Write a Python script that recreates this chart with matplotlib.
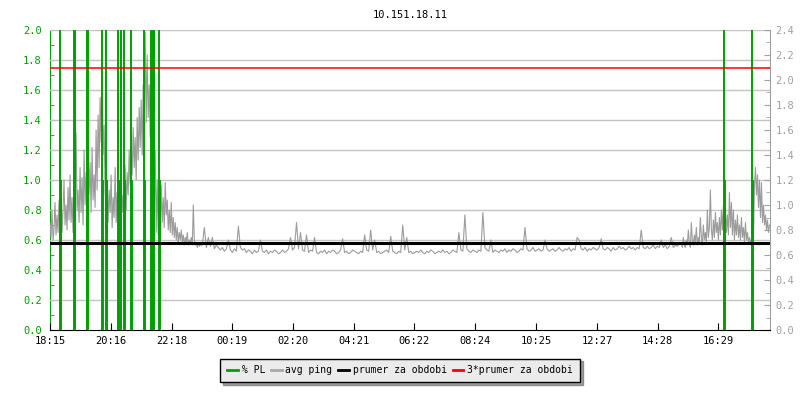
import numpy as np
import matplotlib
matplotlib.use("Agg")
import matplotlib.pyplot as plt
from matplotlib.lines import Line2D

# chart texts
title = "10.151.18.11"
x_labels = ["18:15", "20:16", "22:18", "00:19", "02:20", "04:21",
            "06:22", "08:24", "10:25", "12:27", "14:28", "16:29"]
x_label_minutes = [0, 121, 243, 364, 485, 606, 727, 849, 970, 1092, 1213, 1334]
legend_labels = ["% PL", "avg ping", "prumer za obdobi", "3*prumer za obdobi"]

# avg ping [ms]
# evening 18:15 - 23:13, one sample every 2 minutes
ping_evening = [
    0.86, 0.74, 0.96, 0.72, 0.80, 1.02, 0.76, 0.92, 0.78, 1.04,
    0.82, 1.10, 0.78, 0.96, 1.20, 0.84, 1.00, 0.80, 1.14, 0.88,
    1.24, 0.86, 1.06, 0.78, 1.18, 0.92, 1.58, 0.96, 1.12, 0.86,
    1.30, 0.94, 1.22, 0.84, 1.44, 1.00, 1.26, 0.90, 1.52, 1.08,
    1.34, 0.94, 1.46, 1.04, 1.24, 0.98, 1.60, 1.12, 1.72, 1.30,
    1.86, 1.50, 2.08, 1.40, 1.64, 1.10, 0.92, 1.20, 0.86, 1.12,
    0.94, 1.24, 0.82, 1.06, 0.90, 1.30, 0.86, 1.10, 0.96, 1.18,
    0.88, 1.22, 0.94, 1.08, 1.00, 1.32, 0.96, 1.26, 1.08, 1.44,
    1.16, 1.50, 1.24, 1.62, 1.30, 1.54, 1.20, 1.70, 1.36, 1.78,
    1.46, 1.84, 1.40, 1.96, 1.56, 2.38, 1.66, 2.20, 1.70, 1.96,
    1.54, 2.00, 1.24, 1.60, 0.90, 1.44, 0.78, 1.20, 0.76, 1.10,
    0.80, 1.16, 0.86, 1.06, 0.82, 1.18, 0.92, 1.04, 0.80, 0.96,
    0.78, 1.02, 0.76, 0.90, 0.74, 0.86, 0.72, 0.82, 0.70, 0.78,
    0.72, 0.80, 0.70, 0.76, 0.68, 0.74, 0.70, 0.78, 0.68, 0.72,
    0.70, 0.74, 0.68, 1.00, 0.72, 0.68, 0.70, 0.66, 0.70, 0.67,
]
evening_start, evening_step = 0, 2

# night and day 23:15 - 17:11, one sample every 4 minutes
ping_night = [
    0.68,
    0.68, 0.82, 0.66, 0.74, 0.67, 0.74, 0.65, 0.68, 0.66, 0.64,
    0.66, 0.63, 0.65, 0.72, 0.64, 0.62, 0.65, 0.63, 0.83, 0.66,
    0.64, 0.65, 0.62, 0.64, 0.63, 0.61, 0.64, 0.62, 0.63, 0.72,
    0.63, 0.62, 0.64, 0.61, 0.63, 0.62, 0.64, 0.63, 0.61, 0.62,
    0.64, 0.62, 0.63, 0.65, 0.74, 0.64, 0.66, 0.86, 0.65, 0.78,
    0.64, 0.63, 0.76, 0.62, 0.64, 0.63, 0.74, 0.62, 0.61, 0.63,
    0.62, 0.64, 0.61, 0.63, 0.62, 0.64, 0.63, 0.61, 0.62, 0.64,
    0.73, 0.62, 0.63, 0.61, 0.62, 0.64, 0.63, 0.62, 0.61, 0.63,
    0.62, 0.76, 0.64, 0.63, 0.80, 0.64, 0.72, 0.62, 0.63, 0.61,
    0.62, 0.63, 0.64, 0.62, 0.75, 0.63, 0.62, 0.61, 0.63, 0.62,
    0.84, 0.64, 0.74, 0.62, 0.63, 0.61, 0.62, 0.63, 0.62, 0.64,
    0.62, 0.61, 0.63, 0.62, 0.64, 0.63, 0.61, 0.62, 0.63, 0.62,
    0.64, 0.62, 0.63, 0.61, 0.62, 0.64, 0.63, 0.62, 0.78, 0.64,
    0.63, 0.92, 0.65, 0.63, 0.62, 0.64, 0.63, 0.62, 0.64, 0.63,
    0.94, 0.66, 0.64, 0.63, 0.72, 0.62, 0.64, 0.63, 0.62, 0.64,
    0.63, 0.65, 0.62, 0.64, 0.63, 0.65, 0.64, 0.62, 0.63, 0.65,
    0.64, 0.82, 0.65, 0.63, 0.64, 0.66, 0.63, 0.64, 0.65, 0.63,
    0.64, 0.72, 0.65, 0.63, 0.64, 0.65, 0.63, 0.64, 0.66, 0.64,
    0.63, 0.65, 0.64, 0.66, 0.63, 0.65, 0.64, 0.74, 0.72, 0.65,
    0.64, 0.66, 0.63, 0.65, 0.64, 0.66, 0.65, 0.64, 0.66, 0.73,
    0.65, 0.64, 0.66, 0.65, 0.63, 0.66, 0.64, 0.65, 0.67, 0.65,
    0.66, 0.64, 0.65, 0.67, 0.65, 0.66, 0.64, 0.66, 0.65, 0.80,
    0.66, 0.65, 0.67, 0.65, 0.66, 0.68, 0.65, 0.67, 0.66, 0.72,
    0.66, 0.68, 0.65, 0.67, 0.74, 0.66, 0.68, 0.67, 0.69,
]
night_start, night_step = 300, 4

# late afternoon 17:15 - 18:11, one sample every 2 minutes
ping_late = [
    0.70, 0.66, 0.74, 0.68, 0.66, 0.72, 0.68, 0.80, 0.70, 0.66,
    0.86, 0.72, 0.68, 0.76, 0.70, 0.82, 0.68, 0.74, 0.70, 0.90,
    0.74, 0.68, 0.84, 0.72, 0.78, 0.70, 0.96, 0.74, 0.82, 1.12,
    0.80, 0.72, 0.88, 0.74, 0.94, 0.78, 0.86, 0.72, 0.90, 0.76,
    0.96, 0.80, 1.00, 0.84, 0.98, 0.78, 0.92, 0.76, 1.10, 0.82,
    1.02, 0.76, 0.96, 0.72, 0.88, 0.76, 0.92, 0.74, 0.84, 0.72,
    0.90, 0.74, 0.82, 0.70, 0.86, 0.72, 0.78, 0.70, 0.74, 0.70,
    0.72, 0.70, 0.74, 1.16, 1.30, 1.08, 1.24, 0.98, 1.20, 0.90,
    1.18, 0.86, 1.00, 0.84, 0.92, 0.80, 0.88, 0.78, 0.84,
]
late_start, late_step = 1260, 2

# packet loss events: minutes after 18:15 and % PL (values above 2.0 are off scale)
pl_minutes = [19, 21, 47, 49, 74, 76, 103, 105, 111, 113, 135, 137, 141,
              148, 150, 161, 163, 188, 190, 201, 203, 205, 207, 217, 219,
              1346, 1348, 1402, 1404]
pl_values = [5, 1, 5, 5, 5, 5, 5, 1, 5, 1, 5, 1, 5,
             5, 1, 5, 1, 5, 1, 5, 5, 5, 5, 5, 1,
             5, 1, 5, 1]

mean_ping = 0.698
ms_per_pl = 1.2  # right axis 0-2.4 ms vs left axis 0-2.0 %

GREEN = "#00a000"
GRAY = "#9c9c9c"

plt.rcParams["font.family"] = "DejaVu Sans Mono"
plt.rcParams["font.size"] = 7

fig = plt.figure(figsize=(8, 4), dpi=100)
ax = fig.add_axes([0.0625, 0.175, 0.9, 0.75])

t = np.concatenate([
    evening_start + np.arange(len(ping_evening)) * evening_step,
    night_start + np.arange(len(ping_night)) * night_step,
    late_start + np.arange(len(ping_late)) * late_step,
])
ping = np.concatenate([ping_evening, ping_night, ping_late])
x_end = 1437

# horizontal grid at the % PL steps
for g in np.arange(0.2, 2.01, 0.2):
    ax.axhline(g * ms_per_pl, color="#c4c4c4", lw=1, zorder=1)

ax.plot(t, ping, color=GRAY, lw=0.8, zorder=2)
ax.vlines(pl_minutes, 0, np.array(pl_values) * ms_per_pl, color=GREEN, lw=1.4, zorder=3)
ax.axhline(mean_ping, color="black", lw=2.2, zorder=4)
ax.axhline(3 * mean_ping, color="red", lw=1.1, zorder=5)

ax.set_xlim(0, x_end)
ax.set_ylim(0, 2.4)

# right axis: ping in ms
ax.yaxis.tick_right()
ax.set_yticks(np.arange(0, 2.41, 0.2))
ax.set_yticks(np.arange(0.1, 2.4, 0.2), minor=True)
ax.set_yticklabels(["%.1f" % v for v in np.arange(0, 2.41, 0.2)], color="#a0a0a0", fontsize=7.5)
ax.tick_params(axis="y", which="both", direction="in", color="#a0a0a0", pad=4)
ax.tick_params(axis="y", which="major", length=4)
ax.tick_params(axis="y", which="minor", length=3)

# left axis: packet loss
sec = ax.secondary_yaxis("left", functions=(lambda y: y / ms_per_pl, lambda y: y * ms_per_pl))
sec.set_yticks(np.arange(0, 2.01, 0.2))
sec.set_yticks(np.arange(0.1, 2.0, 0.2), minor=True)
sec.set_yticklabels(["%.1f" % v for v in np.arange(0, 2.01, 0.2)], color=GREEN, fontsize=7.5)
sec.tick_params(which="both", direction="in", color=GREEN, length=3, pad=6)
sec.spines["left"].set_color(GREEN)

ax.set_xticks(x_label_minutes)
ax.set_xticklabels(x_labels)
ax.tick_params(axis="x", direction="in", length=5, pad=4, labelsize=7.5)

ax.spines["top"].set_visible(False)
ax.spines["left"].set_visible(False)
ax.spines["right"].set_color("#a0a0a0")
ax.spines["bottom"].set_color("black")

ax.set_title(title, fontsize=7.5, pad=9)

handles = [Line2D([], [], color=GREEN, lw=2),
           Line2D([], [], color="#a8a8a8", lw=2),
           Line2D([], [], color="black", lw=2),
           Line2D([], [], color="red", lw=2)]
leg = fig.legend(handles, legend_labels, loc="center", bbox_to_anchor=(0.5, 0.074),
                 ncol=4, frameon=True, shadow=True, fancybox=False,
                 handlelength=1.1, handletextpad=0.4, columnspacing=0.6,
                 borderpad=0.7, fontsize=7)
leg.get_frame().set_edgecolor("black")
leg.get_frame().set_facecolor("#ebebeb")
leg.get_frame().set_linewidth(1)

fig.savefig("out.png", dpi=100)
